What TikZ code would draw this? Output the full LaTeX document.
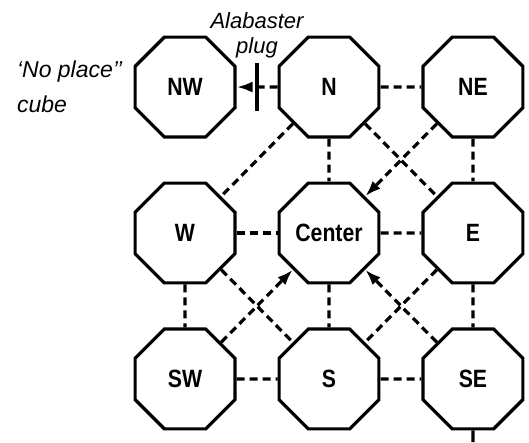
\documentclass[tikz,border=0pt]{standalone}
\usepackage{fontspec}
\setmainfont{Liberation Sans}
\newfontfamily\roomfont[FakeStretch=0.85]{Liberation Sans}
\usetikzlibrary{shapes.geometric,arrows.meta,positioning}

\begin{document}
\begin{tikzpicture}[x=1pt,y=1pt,
    room/.style={regular polygon, regular polygon sides=8, draw, line width=3.2pt,
      minimum size=108pt, inner sep=0pt,
      font=\roomfont\bfseries\fontsize{25}{25}\selectfont},
    link/.style={line width=3.2pt, dash pattern=on 8pt off 5pt},
    move/.style={link, -{Latex[length=16pt,width=11pt]}},
    note/.style={font=\itshape\fontsize{22}{25}\selectfont, inner sep=1pt}]
    \useasboundingbox (0,0) rectangle (529,442);
    \matrix [column sep=41pt, row sep=43pt] at (329,209)
    {
    \node[room] (NW) {NW}; & \node[room] (N) {N}; & \node[room] (NE) {NE};
    \\
    \node[room] (W) {W}; & \node[room] (Center) {Center}; & \node[room] (E) {E};
    \\
    \node[room] (SW) {SW}; & \node[room] (S) {S}; & \node[room] (SE) {SE};
    \\
    };
    % plug between N and the "no place" cube
    \draw[move] (N) -- coordinate[pos=0.5] (plug) (NW);
    \coordinate (plugtop) at ([yshift=24pt]plug);
    \coordinate (plugbot) at ([yshift=-24pt]plug);
    \draw[line width=3.2pt] (plugtop) -- (plugbot);
    \node[note, align=center, above=4pt of plugtop] (plugtext) {Alabaster\\plug};
    \node[note, align=left, font=\itshape\fontsize{23}{35}\selectfont, left=10pt of NW] (noplace) {‘No place’’\\cube};
    % straight links
    \draw[link] (N) -- (NE);
    \draw[link] (W) -- (Center);
    \draw[link] (Center) -- (E);
    \draw[link] (SW) -- (S);
    \draw[link] (S) -- (SE);
    \draw[link] (N) -- (Center);
    \draw[link] (NE) -- (E);
    \draw[link] (W) -- (SW);
    \draw[link] (Center) -- (S);
    \draw[link] (E) -- (SE);
    % diagonals
    \draw[link] (N) -- (W);
    \draw[link] (N) -- (E);
    \draw[link] (W) -- (S);
    \draw[link] (E) -- (S);
    \draw[move] (NE) -- (Center);
    \draw[move] (SW) -- (Center);
    \draw[move] (SE) -- (Center);
    % way out
    \coordinate (exit) at (SE.south |- 0,0);
    \draw[line width=3.2pt] (SE) -- (exit);
\end{tikzpicture}
\end{document}
